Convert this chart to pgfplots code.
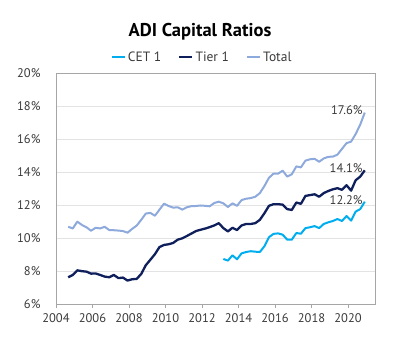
\documentclass[border=0pt]{standalone}
\usepackage{pgfplots}
\pgfplotsset{compat=1.18}
\usepackage{pgfplotstable}
\usepackage{fontspec}
\setmainfont{PT Sans}
\definecolor{cetc}{HTML}{00AEEF}
\definecolor{tierc}{HTML}{0F1F5C}
\definecolor{totc}{HTML}{8EA9DB}
\definecolor{gridc}{HTML}{E3E3E3}
\definecolor{framec}{HTML}{A6A6A6}
\definecolor{txtc}{HTML}{3A3A3A}
\pgfplotstableread{
x total tier cet
2004.67 10.68 7.62 nan
2004.92 10.58 7.76 nan
2005.17 10.99 8.04 nan
2005.42 10.79 7.99 nan
2005.67 10.65 7.96 nan
2005.92 10.44 7.84 nan
2006.17 10.62 7.85 nan
2006.42 10.58 7.76 nan
2006.67 10.68 7.66 nan
2006.92 10.48 7.62 nan
2007.17 10.47 7.76 nan
2007.42 10.45 7.57 nan
2007.67 10.42 7.60 nan
2007.92 10.32 7.42 nan
2008.17 10.55 7.50 nan
2008.42 10.75 7.52 nan
2008.67 11.10 7.82 nan
2008.92 11.48 8.35 nan
2009.17 11.52 8.68 nan
2009.42 11.35 9.02 nan
2009.67 11.72 9.45 nan
2009.92 12.08 9.58 nan
2010.17 11.94 9.62 nan
2010.42 11.84 9.70 nan
2010.67 11.86 9.90 nan
2010.92 11.72 9.98 nan
2011.17 11.86 10.12 nan
2011.42 11.93 10.27 nan
2011.67 11.94 10.42 nan
2011.92 11.97 10.50 nan
2012.17 11.95 10.57 nan
2012.42 11.92 10.66 nan
2012.67 12.12 10.76 nan
2012.92 12.20 10.90 nan
2013.17 12.10 10.60 8.73
2013.42 11.88 10.40 8.63
2013.67 12.10 10.62 8.95
2013.92 11.95 10.48 8.71
2014.17 12.30 10.76 9.07
2014.42 12.38 10.85 9.15
2014.67 12.42 10.85 9.20
2014.92 12.50 10.90 9.17
2015.17 12.72 11.10 9.15
2015.42 13.15 11.50 9.50
2015.67 13.65 11.95 10.05
2015.92 13.90 12.05 10.25
2016.17 13.90 12.05 10.28
2016.42 14.08 12.02 10.20
2016.67 13.72 11.75 9.90
2016.92 13.86 11.70 9.90
2017.17 14.34 12.15 10.30
2017.42 14.28 12.07 10.26
2017.67 14.69 12.55 10.60
2017.92 14.77 12.60 10.65
2018.17 14.80 12.65 10.72
2018.42 14.62 12.50 10.60
2018.67 14.82 12.72 10.85
2018.92 14.92 12.85 10.95
2019.17 14.93 12.95 11.03
2019.42 15.05 13.02 11.15
2019.67 15.40 12.92 11.03
2019.92 15.75 13.20 11.33
2020.17 15.84 12.87 11.05
2020.42 16.30 13.50 11.60
2020.67 16.87 13.72 11.75
2020.92 17.60 14.10 12.20
}\datatable
\begin{document}
\begin{tikzpicture}[x=1pt,y=1pt]
\path[use as bounding box] (0,0) rectangle (400,353);
\node[font=\bfseries\fontsize{18.5}{22}\selectfont, text=black] at (200,321) {ADI Capital Ratios};
\begin{axis}[
  at={(56pt,49pt)}, anchor=south west,
  scale only axis, width=319pt, height=231pt,
  xmin=2004, xmax=2021.48, ymin=6, ymax=20,
  xtick={2004,2006,...,2020},
  ytick={6,8,...,20},
  axis line style={framec, line width=0.8pt},
  ymajorgrids, grid style={gridc, line width=0.8pt},
  major tick length=4pt,
  xtick style={framec, line width=0.8pt},
  tick align=outside,
  xtick pos=bottom,
  ytick style={draw=none},
  ticklabel style={font=\fontsize{12.5}{14}\selectfont, text=txtc},
  /pgf/number format/assume math mode=true,
  /pgf/number format/1000 sep={},
  xticklabel style={yshift=-2pt},
  yticklabel style={xshift=-8pt},
  yticklabel={\pgfmathprintnumber{\tick}\%},
  legend columns=3,
  legend style={at={(0.458,1.069)}, anchor=center, draw=none, fill=none,
    font=\fontsize{13.5}{15}\selectfont, text=txtc,
    /tikz/every even column/.append style={column sep=15pt}},
  legend image code/.code={\draw[#1, line width=2.2pt] (0pt,0pt) -- (13pt,0pt);},
  every axis plot/.append style={line join=round},
]
\addplot[cetc, line width=2pt] table[x=x, y=cet] {\datatable};
\addlegendentry{CET 1}
\addplot[tierc, line width=2.3pt] table[x=x, y=tier] {\datatable};
\addlegendentry{Tier 1}
\addplot[totc, line width=2pt] table[x=x, y=total] {\datatable};
\addlegendentry{Total}
\node[anchor=east, font=\fontsize{12.5}{14}\selectfont, text=txtc, inner sep=1pt, yshift=2pt] at (axis cs:2020.86,17.6) {17.6\%};
\node[anchor=east, font=\fontsize{12.5}{14}\selectfont, text=txtc, inner sep=1pt, yshift=2pt] at (axis cs:2020.86,14.1) {14.1\%};
\node[anchor=east, font=\fontsize{12.5}{14}\selectfont, text=txtc, inner sep=1pt, yshift=2pt] at (axis cs:2020.86,12.2) {12.2\%};
\end{axis}
\end{tikzpicture}
\end{document}
